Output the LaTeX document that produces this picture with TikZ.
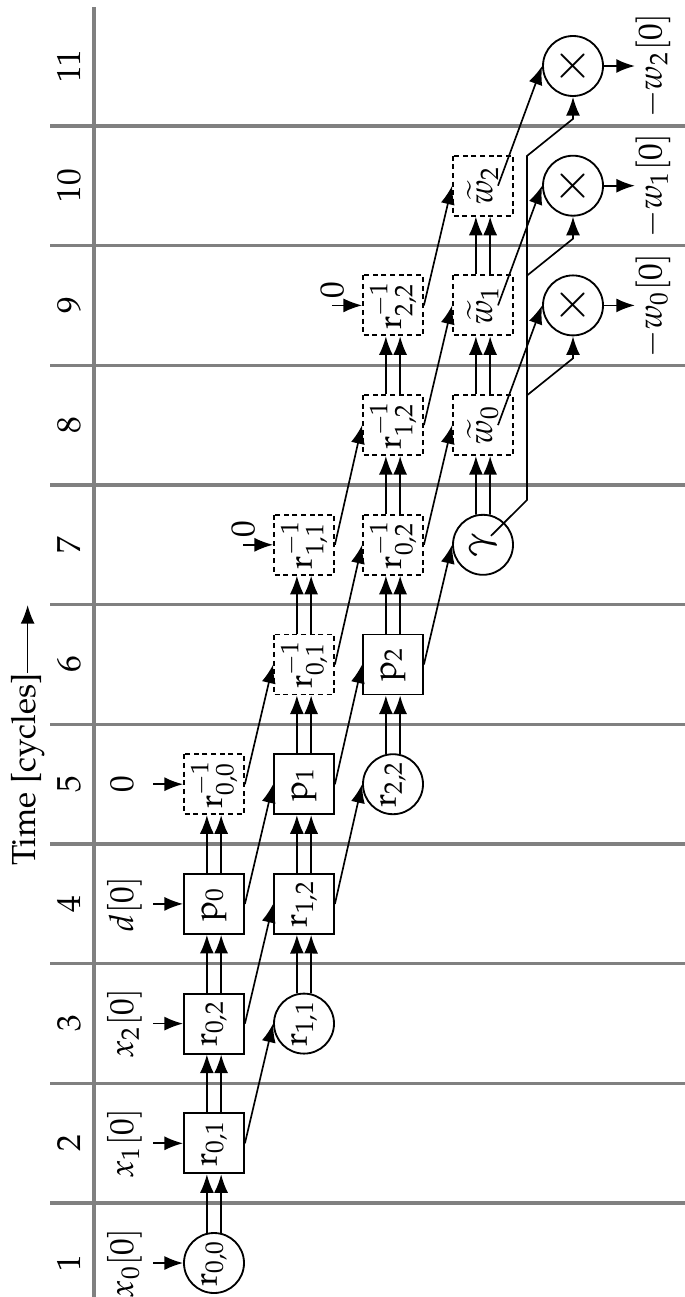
\documentclass[tikz,border=0pt]{standalone}
\usepackage[T1]{fontenc}
\usepackage{mathpazo}
\usetikzlibrary{arrows.meta,calc}
\tikzset{
  gridline/.style={line width=1pt, draw=gray},
  conn/.style={line width=0.5pt, -{Latex[length=5.6pt,width=4.2pt]}},
  blk/.style={draw, line width=0.55pt, minimum size=18pt, inner sep=0pt},
  sq/.style={blk, rectangle},
  rnd/.style={blk, circle},
  dsq/.style={blk, rectangle, dash pattern=on 1.5pt off 1.1pt},
  inlbl/.style={anchor=base},
  outlbl/.style={anchor=north, inner sep=0pt},
}
\newcommand\dblarrow[2]{%
  \draw[conn] (#1.13) -- (#2.167);
  \draw[conn] (#1.-13) -- (#2.-167);}
\begin{document}
\begin{tikzpicture}[x=0.3pt,y=0.3pt]
\begin{scope}[rotate=90,transform shape]
\useasboundingbox (0,0) rectangle (-1297,-685);

% time grid
\draw[gridline] (-7,-94) -- (-1297,-94);
\foreach \k in {1,...,10}
  \draw[gridline] ({119.7*\k-1322.85},-50) -- ({119.7*\k-1322.85},-685);
\foreach \k in {1,...,11}
  \node[anchor=base] (c\k) at ({119.7*\k-1382.7},-80) {\k};

\node[anchor=base east, inner sep=0pt] (time) at (-673,-35) {Time [cycles]};
\coordinate (tend) at (-605,-30);
\draw[conn] (time.east) -- (time.east -| tend);

% processing elements
\node[rnd] (r00) at (-1263.0,-214) {$\mathrm{r}_{0,0}$};
\node[sq]  (r01) at (-1143.3,-214) {$\mathrm{r}_{0,1}$};
\node[sq]  (r02) at (-1023.6,-214) {$\mathrm{r}_{0,2}$};
\node[sq]  (p0)  at (-903.9,-214)  {$\mathrm{p}_0$};
\node[dsq] (ri00) at (-784.2,-214) {$\mathrm{r}^{-1}_{0,0}$};

\node[rnd] (r11) at (-1023.6,-304) {$\mathrm{r}_{1,1}$};
\node[sq]  (r12) at (-903.9,-304)  {$\mathrm{r}_{1,2}$};
\node[sq]  (p1)  at (-784.2,-304)  {$\mathrm{p}_1$};
\node[dsq] (ri01) at (-664.5,-304) {$\mathrm{r}^{-1}_{0,1}$};
\node[dsq] (ri11) at (-544.8,-304) {$\mathrm{r}^{-1}_{1,1}$};

\node[rnd] (r22) at (-784.2,-393)  {$\mathrm{r}_{2,2}$};
\node[sq]  (p2)  at (-664.5,-393)  {$\mathrm{p}_2$};
\node[dsq] (ri02) at (-544.8,-393) {$\mathrm{r}^{-1}_{0,2}$};
\node[dsq] (ri12) at (-425.1,-393) {$\mathrm{r}^{-1}_{1,2}$};
\node[dsq] (ri22) at (-305.4,-393) {$\mathrm{r}^{-1}_{2,2}$};

\node[rnd] (g)  at (-544.8,-483) {\large$\gamma$};
\node[dsq] (w0) at (-425.1,-483) {$\widetilde{w}_0$};
\node[dsq] (w1) at (-305.4,-483) {$\widetilde{w}_1$};
\node[dsq] (w2) at (-185.7,-483) {$\widetilde{w}_2$};

\node[rnd] (m0) at (-305.4,-573) {\Large$\times$};
\node[rnd] (m1) at (-185.7,-573) {\Large$\times$};
\node[rnd] (m2) at (-66.0,-573)  {\Large$\times$};

% inputs
\node[inlbl] (i0) at (-1263.0,-133) {$x_0[0]$};
\node[inlbl] (i1) at (-1143.3,-133) {$x_1[0]$};
\node[inlbl] (i2) at (-1023.6,-133) {$x_2[0]$};
\node[inlbl] (i3) at (-903.9,-133)  {$d[0]$};
\node[inlbl] (i4) at (-784.2,-133)  {0};
\foreach \n in {r00,r01,r02,p0,ri00}
  \draw[conn] ($(\n.north)+(0,30)$) -- (\n.north);

\draw[conn] ($(ri11.north)+(0,30)$) coordinate (z1) -- (ri11.north);
\node[anchor=west, inner sep=2pt] (z1l) at (z1) {0};
\draw[conn] ($(ri22.north)+(0,30)$) coordinate (z2) -- (ri22.north);
\node[anchor=west, inner sep=2pt] (z2l) at (z2) {0};

% pipelined links along each row
\dblarrow{r00}{r01}
\dblarrow{r01}{r02}
\dblarrow{r02}{p0}
\dblarrow{p0}{ri00}
\dblarrow{r11}{r12}
\dblarrow{r12}{p1}
\dblarrow{p1}{ri01}
\dblarrow{ri01}{ri11}
\dblarrow{r22}{p2}
\dblarrow{p2}{ri02}
\dblarrow{ri02}{ri12}
\dblarrow{ri12}{ri22}
\dblarrow{g}{w0}
\dblarrow{w0}{w1}
\dblarrow{w1}{w2}

% links to the next row
\foreach \a/\b in {r01/r11, r02/r12, p0/p1, ri00/ri01,
                   r12/r22, p1/p2, ri01/ri02, ri11/ri12,
                   p2/g, ri02/w0, ri12/w1, ri22/w2}
  \draw[conn] (\a.south) -- (\b.north);
\foreach \a/\b in {w0/m0, w1/m1, w2/m2}
  \draw[conn] ($(\a.center)+(0,-15)$) -- (\b.north);

% gamma distribution
\draw[conn] ($(g.center)+(9,-8)$) -- ($(g.center)+(44.8,-44)$)
  -- ($(m2.west)+(-59,46)$) -- ($(m2.west)+(-22,0)$) -- (m2.west);
\foreach \m in {m0,m1}
  \draw[conn] ($(\m.west)+(-59,46)$) -- ($(\m.west)+(-22,0)$) -- (\m.west);

% outputs
\node[outlbl] (o0) at ($(m0.south)+(0,-31)$) {$-w_0[0]$};
\node[outlbl] (o1) at ($(m1.south)+(0,-31)$) {$-w_1[0]$};
\node[outlbl] (o2) at ($(m2.south)+(0,-31)$) {$-w_2[0]$};
\draw[conn] (m0.south) -- (o0.north);
\draw[conn] (m1.south) -- (o1.north);
\draw[conn] (m2.south) -- (o2.north);
\end{scope}
\end{tikzpicture}
\end{document}
